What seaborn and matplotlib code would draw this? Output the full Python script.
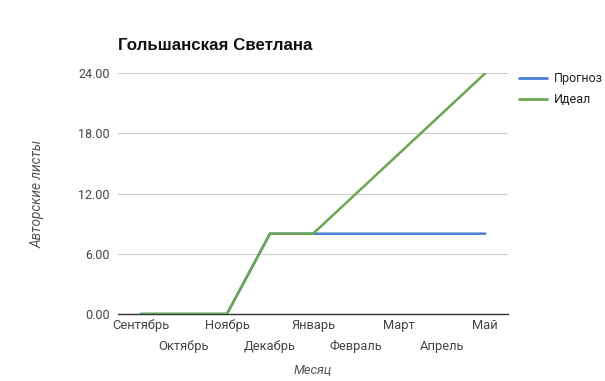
import matplotlib
matplotlib.use("Agg")
import matplotlib.pyplot as plt
import seaborn as sns
import pandas as pd
from matplotlib.lines import Line2D

months = ["Сентябрь", "Октябрь", "Ноябрь", "Декабрь", "Январь",
          "Февраль", "Март", "Апрель", "Май"]
forecast = [0, 0, 0, 8, 8, 8, 8, 8, 8]
ideal = [0, 0, 0, 8, 8, 12, 16, 20, 24]
series_names = ["Прогноз", "Идеал"]
yticks = [0, 6, 12, 18, 24]

sns.set_theme(style="white")
plt.rcParams["font.family"] = ["Roboto", "DejaVu Sans"]

rows = []
for name, vals in zip(series_names, [forecast, ideal]):
    for i, (m, v) in enumerate(zip(months, vals)):
        rows.append({"idx": i, "Месяц": m, "value": v, "series": name})
df = pd.DataFrame(rows)

fig = plt.figure(figsize=(6.05, 3.81), dpi=100)
ax = fig.add_axes([0.195, 0.176, 0.645, 0.632])

palette = {"Прогноз": "#4a7fd4", "Идеал": "#6aa84f"}
sns.lineplot(data=df, x="idx", y="value", hue="series", palette=palette,
             linewidth=1.8, ax=ax, legend=False)

ax.set_xlim(-0.53, 8.53)
ax.set_ylim(0, 24)
ax.set_yticks(yticks)
ax.set_yticklabels([f"{v:.2f}" for v in yticks], color="#444444", fontsize=9)

even = list(range(0, len(months), 2))
odd = list(range(1, len(months), 2))
ax.set_xticks(even)
ax.set_xticklabels([months[i] for i in even], color="#444444", fontsize=9.3)
ax.set_xticks(odd, minor=True)
ax.set_xticklabels([months[i] for i in odd], minor=True, color="#444444", fontsize=9.3)
ax.tick_params(axis="both", which="both", length=0)
ax.tick_params(axis="y", pad=6)
ax.tick_params(axis="x", which="major", pad=3.5)
ax.tick_params(axis="x", which="minor", pad=18.5)

ax.yaxis.grid(True, color="#cccccc", linewidth=0.8)
ax.set_axisbelow(True)
for s in ["top", "right", "left"]:
    ax.spines[s].set_visible(False)
ax.spines["bottom"].set_color("#333333")
ax.spines["bottom"].set_linewidth(1.0)
ax.spines["bottom"].set_zorder(1)

ax.set_xlabel("Месяц", fontstyle="italic", color="#555555", fontsize=9.3, labelpad=8)
ax.set_ylabel("Авторские листы", fontstyle="italic", color="#555555", fontsize=9.8, labelpad=24)

fig.text(118 / 605, 1 - 45 / 381, "Гольшанская Светлана", fontsize=12.2,
         fontweight="bold", family=["Liberation Sans", "DejaVu Sans"],
         va="center", ha="left", color="#111111")

handles = [Line2D([0], [0], color=palette[n], lw=2) for n in series_names]
leg = fig.legend(handles, series_names, loc="upper left",
                 bbox_to_anchor=(514 / 605, 1 - 67 / 381), frameon=False,
                 fontsize=9, handlelength=2.2, handletextpad=0.6,
                 labelspacing=0.65, borderaxespad=0)
for t in leg.get_texts():
    t.set_color("#222222")

fig.savefig("out.png", dpi=100)
